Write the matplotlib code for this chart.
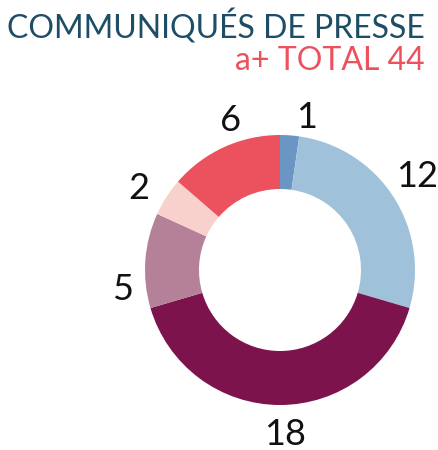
import matplotlib.pyplot as plt

# Data
values = [1, 12, 18, 5, 2, 6]
labels = ["1", "12", "18", "5", "2", "6"]
colors = ["#6b96c3", "#9fc2da", "#7c134d", "#b58198", "#f9d1cc", "#ec525e"]
title = "COMMUNIQUÉS DE PRESSE"
subtitle = "a+ TOTAL 44"

# small manual nudges for the outer labels (pixels, right / down)
label_nudge = [(15, 6), (3, -7), (5, 5), (1, 31), (-7, 5), (17, -5)]

plt.rcParams["font.family"] = ["Lato", "DejaVu Sans"]

W, H = 439, 450
fig = plt.figure(figsize=(W / 100, H / 100), dpi=100)

# donut centre (280, 270) px from top-left, radius ~135 px
cx, cy, r = 280, 270, 135
ax = fig.add_axes([(cx - r) / W, (H - cy - r) / H, 2 * r / W, 2 * r / H])

wedges, texts = ax.pie(
    values,
    labels=labels,
    colors=colors,
    startangle=90,
    counterclock=False,
    radius=1,
    labeldistance=1.18,
    wedgeprops=dict(width=0.4, linewidth=0),
    textprops=dict(fontsize=26, color="#111111"),
)
for t, (dx, dy) in zip(texts, label_nudge):
    x, y = t.get_position()
    t.set_position((x + dx / r, y - dy / r))
    t.set_ha("center")
    t.set_va("center")
ax.set_xlim(-1, 1)
ax.set_ylim(-1, 1)
ax.set_aspect("equal")
ax.axis("off")

fig.text(425 / W, 1 - 27 / H, title, ha="right", va="center",
         fontsize=23, color="#1d4e66")
fig.text(425 / W, 1 - 61 / H, subtitle, ha="right", va="center",
         fontsize=23, color="#ec525e")

fig.savefig("out.png", dpi=100)
